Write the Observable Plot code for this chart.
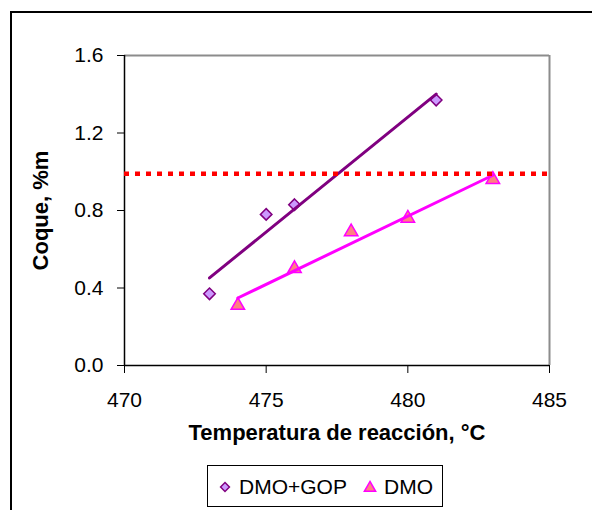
<!DOCTYPE html>
<html>
<head>
<meta charset="utf-8">
<script src="https://cdn.jsdelivr.net/npm/d3@7"></script>
<script src="https://cdn.jsdelivr.net/npm/@observablehq/plot@0.6"></script>
<style>
  html, body { margin: 0; padding: 0; background: #fff; }
  #wrap { position: relative; width: 592px; height: 510px; overflow: hidden; font-family: "Liberation Sans", Arial, sans-serif; }
  #outer { position: absolute; left: 10px; top: 11px; width: 700px; height: 600px; border: 2px solid #000; box-sizing: border-box; }
  #chart { position: absolute; left: 0; top: 0; }
  #legend { position: absolute; left: 207px; top: 465px; width: 236px; height: 42px; border: 1px solid #000; box-sizing: border-box; background: #fff; }
  #legend svg { position: absolute; left: 0; top: 0; }
</style>
</head>
<body>
<div id="wrap">
  <div id="outer"></div>
  <div id="chart"></div>
  <div id="legend"></div>
</div>
<script>
// ---- data ----
const gopTemp = [473, 475, 476, 481];
const gopCoke = [0.37, 0.78, 0.83, 1.37];
const dmoTemp = [474, 476, 478, 480, 483];
const dmoCoke = [0.31, 0.50, 0.69, 0.76, 0.96];
const limitValue = [0.99];
const xTicks = [470, 475, 480, 485];
const yTicks = [0, 0.4, 0.8, 1.2, 1.6];
const seriesNames = ["DMO+GOP", "DMO"];
const xTitle = "Temperatura de reacción, °C";
const yTitle = "Coque, %m";

const gop = gopTemp.map((t, i) => ({t, c: gopCoke[i]}));
const dmo = dmoTemp.map((t, i) => ({t, c: dmoCoke[i]}));

const font = "Liberation Sans, Arial, sans-serif";

const chart = Plot.plot({
  width: 592,
  height: 450,
  marginLeft: 124,
  marginRight: 43,
  marginTop: 55,
  marginBottom: 85,
  style: {fontFamily: font, fontSize: "21px", color: "#000", background: "transparent", overflow: "visible"},
  x: {domain: [470, 485]},
  y: {domain: [0, 1.6]},
  marks: [
    Plot.ruleY([1.6], {stroke: "#8c8c8c", strokeWidth: 2}),
    Plot.ruleX([485], {stroke: "#8c8c8c", strokeWidth: 2}),
    Plot.axisX({ticks: xTicks, tickSize: 8, tickPadding: 19, label: null, fontSize: 21, stroke: "#000"}),
    Plot.axisY({ticks: yTicks, tickSize: 7, tickPadding: 14, tickFormat: d3.format(".1f"), label: null, fontSize: 21, stroke: "#000"}),
    Plot.ruleX([470], {stroke: "#000", strokeWidth: 1.5}),
    Plot.ruleY([0], {stroke: "#000", strokeWidth: 1.5}),
    Plot.dot(gop, {x: "t", y: "c", symbol: "diamond2", r: 5.2, fill: "#cc99ff", stroke: "#800080", strokeWidth: 1.5}),
    Plot.dot(dmo, {x: "t", y: "c", symbol: "triangle", r: 5, fill: "#ff8080", stroke: "#ff00ff", strokeWidth: 1.5}),
    Plot.linearRegressionY(gop, {x: "t", y: "c", stroke: "#800080", strokeWidth: 3, ci: 0}),
    Plot.linearRegressionY(dmo, {x: "t", y: "c", stroke: "#ff00ff", strokeWidth: 3, ci: 0}),
    Plot.ruleY(limitValue, {stroke: "#ff0000", strokeWidth: 4.5, strokeDasharray: "5,6"}),
    Plot.text([xTitle], {frameAnchor: "bottom", textAnchor: "middle", lineAnchor: "middle", dy: 67, fontSize: 22, fontWeight: "bold", fill: "#000"}),
    Plot.text([yTitle], {frameAnchor: "left", textAnchor: "middle", lineAnchor: "middle", dx: -84, rotate: -90, fontSize: 22, fontWeight: "bold", fill: "#000"})
  ]
});
document.getElementById("chart").appendChild(chart);

// ---- legend (HTML/SVG key below the chart) ----
const lg = d3.select("#legend").append("svg").attr("width", 236).attr("height", 42)
  .style("font-family", font).style("font-size", "21px");
// diamond key
lg.append("path").attr("d", d3.symbol(d3.symbolDiamond2, 50)()).attr("transform", "translate(17,21)")
  .attr("fill", "#cc99ff").attr("stroke", "#800080").attr("stroke-width", 1.5);
lg.append("text").attr("x", 31).attr("y", 28).text(seriesNames[0]);
// triangle key
lg.append("path").attr("d", d3.symbol(d3.symbolTriangle, 55)()).attr("transform", "translate(162,22)")
  .attr("fill", "#ff8080").attr("stroke", "#ff00ff").attr("stroke-width", 1.5);
lg.append("text").attr("x", 176).attr("y", 28).text(seriesNames[1]);
</script>
</body>
</html>
